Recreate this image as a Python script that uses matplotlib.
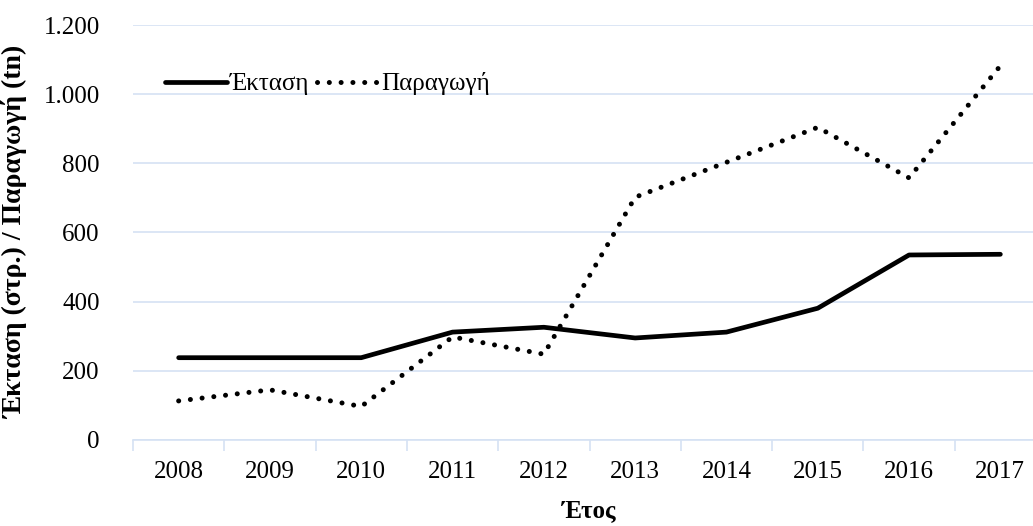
import matplotlib
matplotlib.use("Agg")
import matplotlib.pyplot as plt
from matplotlib.ticker import FuncFormatter, FixedLocator

years = ["2008", "2009", "2010", "2011", "2012", "2013", "2014", "2015", "2016", "2017"]
ektasi = [238, 238, 238, 312, 326, 295, 312, 381, 535, 537]
paragogi = [113, 145, 97, 298, 248, 702, 803, 904, 758, 1082]

plt.rcParams['font.family'] = ['Liberation Serif', 'DejaVu Serif']

grid_col = '#d5e2f3'
fs = 18

fig = plt.figure(figsize=(10.33, 5.26), dpi=100)
ax = fig.add_axes([133 / 1033, 1 - 440 / 526, 913 / 1033, 415 / 526])

x = list(range(len(years)))
ax.plot(x, ektasi, color='black', lw=3.4, solid_capstyle='round',
        solid_joinstyle='round', label='Έκταση')
ax.plot(x, paragogi, color='black', lw=3.6, linestyle=(0, (0.01, 2.35)),
        dash_capstyle='round', label='Παραγωγή')

ax.set_xlim(-0.5, len(years) - 0.5)
ax.set_ylim(0, 1200)
ax.set_yticks(range(0, 1201, 200))
ax.yaxis.set_major_formatter(FuncFormatter(lambda v, p: f"{int(v):,}".replace(",", ".")))
ax.grid(axis='y', color=grid_col, lw=1.2)
ax.set_axisbelow(True)

ax.set_xticks(x)
ax.set_xticklabels(years)
ax.xaxis.set_minor_locator(FixedLocator([i - 0.5 for i in range(len(years) + 1)]))
ax.tick_params(axis='x', which='major', length=0, pad=15, labelsize=fs)
ax.tick_params(axis='x', which='minor', length=8, width=1.2, color=grid_col)
ax.tick_params(axis='y', length=0, pad=24, labelsize=fs)

for s in ['top', 'right', 'left']:
    ax.spines[s].set_visible(False)
ax.spines['bottom'].set_color(grid_col)
ax.spines['bottom'].set_linewidth(1.2)

ax.set_xlabel('Έτος', fontsize=fs, fontweight='bold', labelpad=12)
ax.set_ylabel('Έκταση (στρ.) / Παραγωγή (tn)', fontsize=20, fontweight='bold', labelpad=11)

ax.legend(loc='upper left', bbox_to_anchor=(0.01, 0.94), ncol=2, frameon=False,
          fontsize=fs, handlelength=2.5, handletextpad=0.1, columnspacing=0.3)

fig.savefig('out.png', dpi=100)
